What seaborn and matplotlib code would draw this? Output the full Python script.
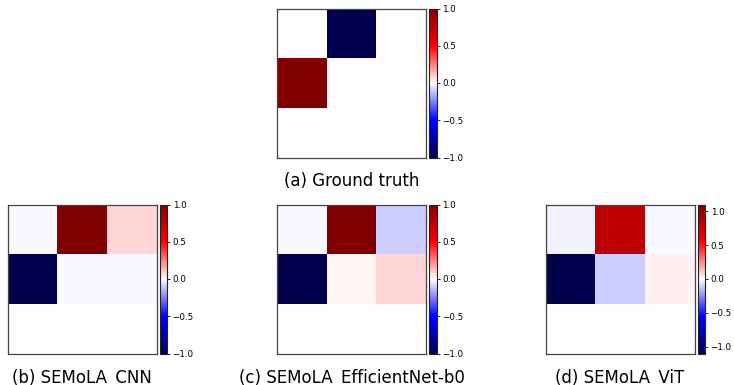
import numpy as np
import matplotlib
matplotlib.use("Agg")
import matplotlib.pyplot as plt
import seaborn as sns

# ---- data ----
ground_truth = [[0.0, -1.0, 0.0],
                [1.0, 0.0, 0.0],
                [0.0, 0.0, 0.0]]
semola_cnn = [[-0.01, 1.0, 0.08],
              [-1.0, -0.01, -0.01],
              [0.0, 0.0, 0.0]]
semola_effnet = [[-0.01, 1.0, -0.1],
                 [-1.0, 0.02, 0.08],
                 [0.0, 0.0, 0.0]]
semola_vit = [[-0.03, 0.83, -0.015],
              [-1.1, -0.11, 0.03],
              [0.0, 0.0, 0.0]]
titles = ["(a) Ground truth", "(b) SEMoLA_CNN",
          "(c) SEMoLA_EfficientNet-b0", "(d) SEMoLA_ViT"]
cbar_ticks = [-1.0, -0.5, 0.0, 0.5, 1.0]

W, H = 734, 385
fig = plt.figure(figsize=(W / 100, H / 100), dpi=100)

# panel pixel boxes: (left, top) of the heatmap; 150x150 px
boxes = [(277, 8.5), (7.5, 204.5), (277, 204.5), (545.5, 204.5)]
label_baselines = [186, 382.3]
mats = [ground_truth, semola_cnn, semola_effnet, semola_vit]

for i, (mat, title, (lx, ty)) in enumerate(zip(mats, titles, boxes)):
    arr = np.array(mat)
    lim = np.abs(arr).max()
    ax = fig.add_axes([lx / W, (H - ty - 149) / H, 149 / W, 149 / H])
    cax = fig.add_axes([(lx + 152) / W, (H - ty - 149) / H, 7.5 / W, 149 / H])
    sns.heatmap(arr, ax=ax, cbar_ax=cax, cmap="seismic", vmin=-lim, vmax=lim,
                xticklabels=False, yticklabels=False, square=False)
    for sp in ax.spines.values():
        sp.set_visible(True)
        sp.set_color("#444444")
        sp.set_linewidth(0.9)
    cb = ax.collections[0].colorbar
    cb.outline.set_visible(True)
    cb.outline.set_linewidth(0.8)
    cb.outline.set_edgecolor("#222222")
    cb.set_ticks(cbar_ticks)
    cax.tick_params(labelsize=6.3, length=2.5, width=0.6, pad=1.5)
    base = label_baselines[0] if i == 0 else label_baselines[1]
    fig.text((lx + 74.5) / W, (H - base) / H, title, ha="center",
             va="baseline", fontsize=12, family="DejaVu Sans")

fig.savefig("out.png", dpi=100)
